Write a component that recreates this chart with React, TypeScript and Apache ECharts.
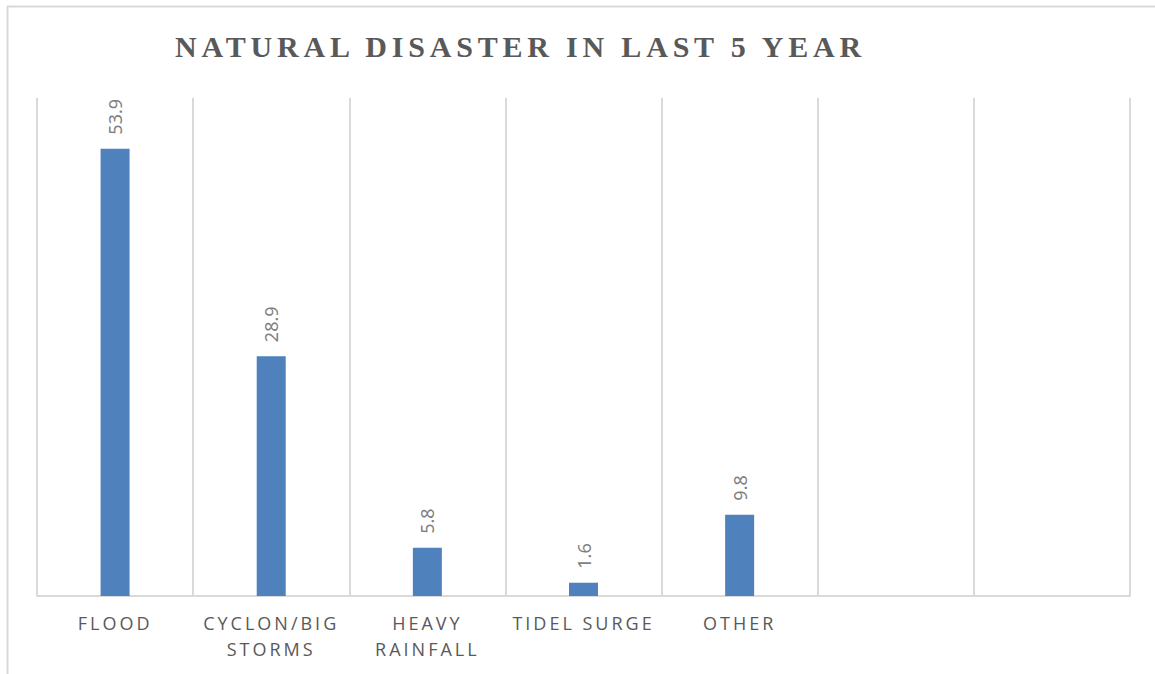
import React, { useEffect, useRef } from "react";
import * as echarts from "echarts";

const TITLE = "NATURAL DISASTER IN LAST 5 YEAR";
const categories = ["FLOOD", "CYCLON/BIG\nSTORMS", "HEAVY\nRAINFALL", "TIDEL SURGE", "OTHER", "", ""];
const values: (number | null)[] = [53.9, 28.9, 5.8, 1.6, 9.8, null, null];
const yMax = 60;

const css = `
#chart text[style*="Liberation Serif"] { letter-spacing: 4.8px; }
#chart text[style*="Open Sans"] { letter-spacing: 3px; }
`;

export default function App() {
  const ref = useRef<HTMLDivElement>(null);
  useEffect(() => {
    if (!ref.current) return;
    const chart = echarts.init(ref.current, undefined, { renderer: "svg" });
    chart.setOption({
      animation: false,
      backgroundColor: "#ffffff",
      title: {
        text: TITLE,
        left: 170,
        top: 26,
        textStyle: {
          fontFamily: "Liberation Serif",
          fontWeight: "bold",
          fontSize: 30,
          color: "#595959",
        },
      },
      graphic: [
        { type: "line", shape: { x1: 7, y1: 6.5, x2: 1155, y2: 6.5 }, style: { stroke: "#d9d9d9", lineWidth: 2 } },
        { type: "line", shape: { x1: 7.5, y1: 6, x2: 7.5, y2: 674 }, style: { stroke: "#d9d9d9", lineWidth: 2 } },
      ],
      grid: { left: 37, right: 25, top: 98, bottom: 78, containLabel: false },
      xAxis: {
        type: "category",
        data: categories,
        boundaryGap: true,
        axisLine: { show: true, lineStyle: { color: "#d9d9d9", width: 2 } },
        axisTick: { show: false },
        splitLine: { show: true, lineStyle: { color: "#d9d9d9", width: 2 } },
        axisLabel: {
          interval: 0,
          margin: 14,
          color: "#595959",
          fontFamily: "Open Sans",
          fontSize: 18,
          lineHeight: 26,
        },
      },
      yAxis: {
        type: "value",
        min: 0,
        max: yMax,
        show: false,
        splitLine: { show: false },
      },
      series: [
        {
          type: "bar",
          data: values,
          barWidth: 29,
          itemStyle: { color: "#4f81bd" },
          label: {
            show: true,
            position: "top",
            rotate: 90,
            align: "left",
            verticalAlign: "middle",
            distance: 14,
            color: "#7f7f7f",
            fontFamily: "Noto Sans",
            fontSize: 18,
          },
        },
      ],
    });
    return () => chart.dispose();
  }, []);
  return (
    <>
      <style>{css}</style>
      <div
        id="chart"
        ref={ref}
        style={{ position: "fixed", left: 0, top: 0, width: 1155, height: 674 }}
      />
    </>
  );
}
